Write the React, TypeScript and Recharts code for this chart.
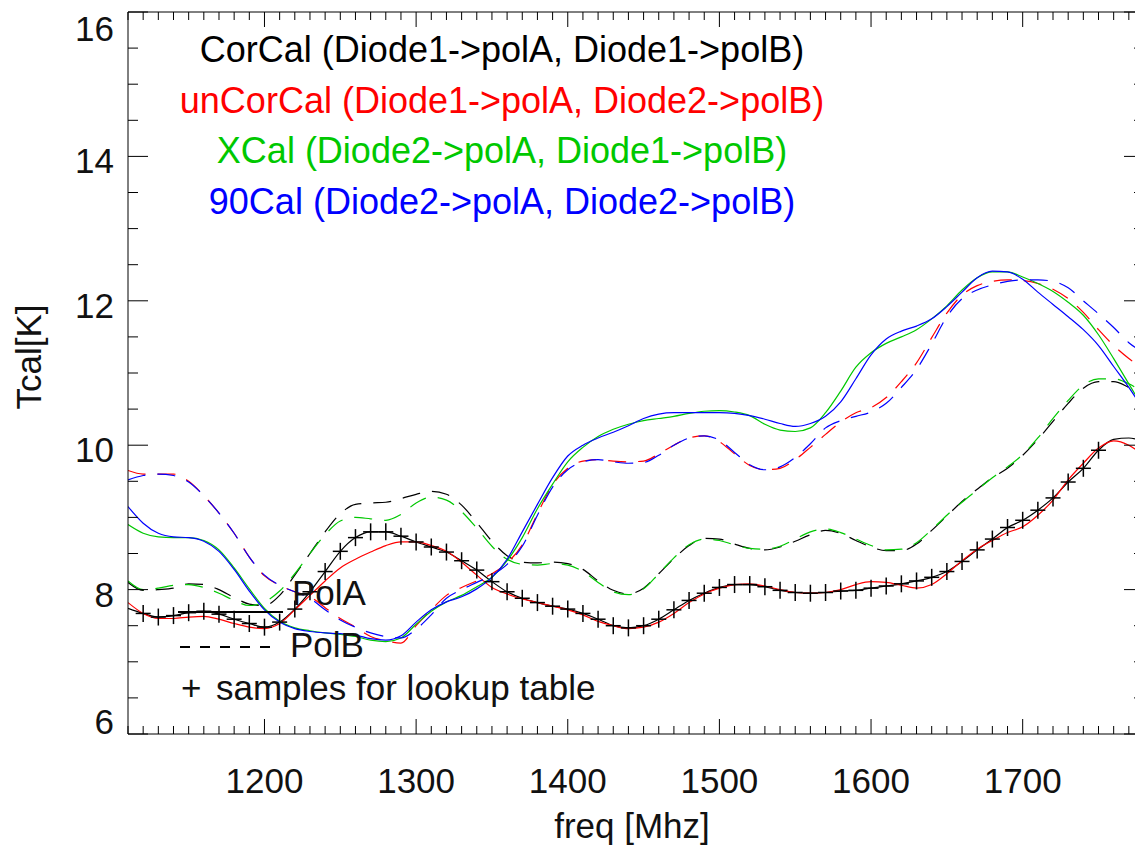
import { LineChart, Line, XAxis, YAxis } from 'recharts';

const FONT = "'Liberation Sans', Helvetica, Arial, sans-serif";

// frequency grid [MHz]
const freq = [
  1110, 1120, 1130, 1140, 1150, 1160, 1170, 1180, 1190, 1200,
  1210, 1220, 1230, 1240, 1250, 1260, 1270, 1280, 1290, 1300,
  1310, 1320, 1330, 1340, 1350, 1360, 1370, 1380, 1390, 1400,
  1410, 1420, 1430, 1440, 1450, 1460, 1470, 1480, 1490, 1500,
  1510, 1520, 1530, 1540, 1550, 1560, 1570, 1580, 1590, 1600,
  1610, 1620, 1630, 1640, 1650, 1660, 1670, 1680, 1690, 1700,
  1710, 1720, 1730, 1740, 1750, 1760, 1770, 1780,
];

// CorCal (Diode1->polA, Diode1->polB)
const corCalA = [
  7.74, 7.67, 7.62, 7.64, 7.68, 7.70, 7.66, 7.59, 7.53, 7.48,
  7.55, 7.73, 7.97, 8.25, 8.53, 8.72, 8.80, 8.80, 8.74, 8.66,
  8.59, 8.52, 8.40, 8.27, 8.11, 7.97, 7.88, 7.82, 7.77, 7.73,
  7.67, 7.59, 7.50, 7.47, 7.50, 7.59, 7.72, 7.85, 7.95, 8.03,
  8.07, 8.07, 8.04, 7.99, 7.96, 7.95, 7.96, 7.98, 7.99, 8.02,
  8.05, 8.08, 8.12, 8.17, 8.25, 8.39, 8.55, 8.70, 8.86, 8.96,
  9.10, 9.27, 9.49, 9.68, 9.93, 10.08, 10.10, 10.05,
];
const corCalB = [
  8.10, 7.99, 8.00, 8.02, 8.08, 8.07, 8.00, 7.89, 7.80, 7.78,
  7.92, 8.20, 8.50, 8.80, 9.05, 9.18, 9.20, 9.21, 9.26, 9.32,
  9.36, 9.32, 9.17, 8.93, 8.67, 8.47, 8.38, 8.37, 8.38, 8.36,
  8.28, 8.12, 7.99, 7.94, 8.02, 8.22, 8.43, 8.61, 8.71, 8.70,
  8.63, 8.57, 8.55, 8.59, 8.67, 8.76, 8.82, 8.78, 8.68, 8.59,
  8.54, 8.54, 8.63, 8.82, 9.02, 9.22, 9.39, 9.55, 9.68, 9.86,
  10.08, 10.33, 10.58, 10.79, 10.88, 10.88, 10.80, 10.68,
];

// unCorCal (Diode1->polA, Diode2->polB)
const unCorCalA = [
  7.82, 7.67, 7.60, 7.60, 7.62, 7.63, 7.59, 7.53, 7.48, 7.46,
  7.53, 7.72, 7.92, 8.12, 8.30, 8.42, 8.52, 8.61, 8.66, 8.66,
  8.61, 8.53, 8.38, 8.20, 8.03, 7.94, 7.87, 7.82, 7.77, 7.72,
  7.65, 7.56, 7.50, 7.46, 7.48, 7.55, 7.67, 7.82, 7.94, 8.02,
  8.07, 8.08, 8.05, 8.00, 7.96, 7.95, 7.96, 8.00, 8.07, 8.11,
  8.10, 8.06, 8.02, 8.07, 8.22, 8.40, 8.56, 8.68, 8.79, 8.87,
  9.03, 9.24, 9.52, 9.75, 9.96, 10.06, 10.00, 9.85,
];
const unCorCalB = [
  9.65, 9.60, 9.60, 9.60, 9.50, 9.30, 9.06, 8.78, 8.45, 8.19,
  8.06, 7.97, 7.90, 7.75, 7.60, 7.48, 7.35, 7.29, 7.26, 7.50,
  7.72, 7.92, 8.03, 8.12, 8.22, 8.37, 8.62, 9.05, 9.45, 9.68,
  9.78, 9.80, 9.78, 9.77, 9.78, 9.88, 10.00, 10.10, 10.13, 10.05,
  9.88, 9.72, 9.66, 9.68, 9.80, 9.97, 10.15, 10.32, 10.45, 10.52,
  10.66, 10.88, 11.14, 11.49, 11.83, 12.08, 12.21, 12.27, 12.29, 12.28,
  12.24, 12.16, 12.03, 11.84, 11.60, 11.38, 11.20, 11.05,
];

// XCal (Diode2->polA, Diode1->polB)
const xCalA = [
  8.90, 8.78, 8.73, 8.72, 8.72, 8.68, 8.55, 8.30, 8.01, 7.74,
  7.56, 7.47, 7.43, 7.40, 7.38, 7.35, 7.30, 7.28, 7.33, 7.52,
  7.70, 7.83, 7.92, 8.04, 8.17, 8.40, 8.72, 9.12, 9.46, 9.77,
  9.97, 10.12, 10.22, 10.29, 10.34, 10.37, 10.40, 10.44, 10.47, 10.48,
  10.46, 10.41, 10.29, 10.21, 10.19, 10.24, 10.45, 10.75, 11.08, 11.28,
  11.41, 11.50, 11.60, 11.75, 11.93, 12.15, 12.32, 12.40, 12.40, 12.33,
  12.24, 12.13, 11.98, 11.80, 11.53, 11.20, 10.85, 10.50,
];
const xCalB = [
  8.12, 8.00, 8.02, 8.06, 8.07, 8.03, 7.95, 7.85, 7.78, 7.83,
  7.98, 8.22, 8.50, 8.76, 8.95, 9.00, 8.98, 8.96, 9.04, 9.20,
  9.28, 9.24, 9.08, 8.85, 8.60, 8.42, 8.35, 8.34, 8.36, 8.34,
  8.25, 8.10, 7.97, 7.93, 8.01, 8.22, 8.44, 8.62, 8.70, 8.68,
  8.62, 8.57, 8.56, 8.60, 8.70, 8.80, 8.84, 8.79, 8.70, 8.61,
  8.55, 8.56, 8.65, 8.83, 9.03, 9.21, 9.38, 9.55, 9.70, 9.87,
  10.10, 10.37, 10.62, 10.83, 10.92, 10.92, 10.85, 10.72,
];

// 90Cal (Diode2->polA, Diode2->polB)
const ninetyCalA = [
  9.15, 8.92, 8.78, 8.73, 8.72, 8.67, 8.53, 8.28, 7.98, 7.72,
  7.55, 7.46, 7.42, 7.40, 7.39, 7.37, 7.32, 7.30, 7.36, 7.55,
  7.72, 7.83, 7.90, 8.01, 8.17, 8.42, 8.80, 9.18, 9.55, 9.85,
  10.00, 10.10, 10.18, 10.27, 10.37, 10.43, 10.45, 10.45, 10.45, 10.45,
  10.44, 10.41, 10.36, 10.30, 10.26, 10.30, 10.40, 10.60, 10.92, 11.25,
  11.47, 11.58, 11.65, 11.75, 11.92, 12.12, 12.32, 12.41, 12.40, 12.30,
  12.12, 11.95, 11.78, 11.60, 11.38, 11.09, 10.80, 10.48,
];
const ninetyCalB = [
  9.52, 9.58, 9.60, 9.58, 9.49, 9.30, 9.06, 8.78, 8.45, 8.20,
  8.06, 7.97, 7.88, 7.72, 7.58, 7.48, 7.40, 7.35, 7.33, 7.45,
  7.65, 7.88, 8.00, 8.10, 8.20, 8.35, 8.60, 9.03, 9.42, 9.66,
  9.77, 9.80, 9.77, 9.75, 9.76, 9.86, 10.00, 10.10, 10.13, 10.07,
  9.90, 9.73, 9.66, 9.70, 9.83, 10.02, 10.24, 10.34, 10.40, 10.46,
  10.58, 10.80, 11.05, 11.40, 11.78, 12.03, 12.15, 12.22, 12.27, 12.29,
  12.29, 12.27, 12.18, 12.00, 11.82, 11.63, 11.42, 11.28,
];

// lookup table samples are taken from the CorCal polA curve
const SAMPLE_FROM = 1120;
const SAMPLE_TO = 1750;

const X_LABELS = [1200, 1300, 1400, 1500, 1600, 1700];
const Y_LABELS = [6, 8, 10, 12, 14, 16];
const Y_TICKS = [6, 6.5, 7, 7.5, 8, 8.5, 9, 9.5, 10, 10.5, 11, 11.5, 12, 12.5, 13, 13.5, 14, 14.5, 15, 15.5, 16];

const legendLines = [
  { text: 'CorCal (Diode1->polA, Diode1->polB)', color: '#000000' },
  { text: 'unCorCal (Diode1->polA, Diode2->polB)', color: '#ff0000' },
  { text: 'XCal (Diode2->polA, Diode1->polB)', color: '#00c800' },
  { text: '90Cal (Diode2->polA, Diode2->polB)', color: '#0000ff' },
];

const series = [
  { key: 'corA', color: '#000000', dashed: false },
  { key: 'corB', color: '#000000', dashed: true },
  { key: 'uncA', color: '#ff0000', dashed: false },
  { key: 'uncB', color: '#ff0000', dashed: true },
  { key: 'xA', color: '#00c800', dashed: false },
  { key: 'xB', color: '#00c800', dashed: true },
  { key: 'nA', color: '#0000ff', dashed: false },
  { key: 'nB', color: '#0000ff', dashed: true },
];

const data = freq.map((f, i) => ({
  f,
  corA: corCalA[i],
  corB: corCalB[i],
  uncA: unCorCalA[i],
  uncB: unCorCalB[i],
  xA: xCalA[i],
  xB: xCalB[i],
  nA: ninetyCalA[i],
  nB: ninetyCalB[i],
  samples: f >= SAMPLE_FROM && f <= SAMPLE_TO ? corCalA[i] : null,
}));

const textStyle = { fontFamily: FONT, fill: '#111' };

// ticks point inward, like the IDL frame
function BottomTick({ x, y, payload }: any) {
  const major = X_LABELS.includes(payload.value);
  return (
    <g>
      <line x1={x} x2={x} y1={y} y2={y - (major ? 15 : 8)} stroke="#000" />
      {major && (
        <text x={x} y={y + 59} textAnchor="middle" fontSize={35} style={textStyle}>
          {payload.value}
        </text>
      )}
    </g>
  );
}

function TopTick({ x, y, payload }: any) {
  const major = X_LABELS.includes(payload.value);
  return <line x1={x} x2={x} y1={y} y2={y + (major ? 15 : 8)} stroke="#000" />;
}

function LeftTick({ x, y, payload }: any) {
  const major = Y_LABELS.includes(payload.value);
  const base = Math.min(Math.max(y + 17, 41), 734);
  return (
    <g>
      <line x1={x} x2={x + (major ? 20 : 10)} y1={y} y2={y} stroke="#000" />
      {major && (
        <text x={x - 14} y={base} textAnchor="end" fontSize={35} style={textStyle}>
          {payload.value}
        </text>
      )}
    </g>
  );
}

function RightTick({ x, y, payload }: any) {
  const major = Y_LABELS.includes(payload.value);
  return <line x1={x} x2={x - (major ? 20 : 10)} y1={y} y2={y} stroke="#000" />;
}

function CrossDot({ cx, cy, value }: any) {
  if (cx == null || cy == null || value == null) return <g />;
  return (
    <g stroke="#000" strokeWidth={1.5}>
      <line x1={cx - 7.5} x2={cx + 7.5} y1={cy} y2={cy} />
      <line x1={cx} x2={cx} y1={cy - 8.5} y2={cy + 8.5} />
    </g>
  );
}

export default function App() {
  return (
    <div style={{ position: 'absolute', left: 0, top: 0, width: 1135, height: 854, overflow: 'hidden', background: '#fff' }}>
      <LineChart width={1145} height={854} data={data} margin={{ top: 11, right: 0, bottom: 119, left: 127 }}>
        <XAxis
          xAxisId="b"
          dataKey="f"
          type="number"
          domain={[1110, 1780]}
          allowDataOverflow
          ticks={freq}
          interval={0}
          height={1}
          tickSize={0}
          tickMargin={0}
          tickLine={false}
          axisLine={{ stroke: '#000' }}
          tick={<BottomTick />}
        />
        <XAxis
          xAxisId="t"
          orientation="top"
          dataKey="f"
          type="number"
          domain={[1110, 1780]}
          allowDataOverflow
          ticks={freq}
          interval={0}
          height={1}
          tickSize={0}
          tickMargin={0}
          tickLine={false}
          axisLine={{ stroke: '#000' }}
          tick={<TopTick />}
        />
        <YAxis
          yAxisId="l"
          type="number"
          domain={[6, 16]}
          allowDataOverflow
          ticks={Y_TICKS}
          interval={0}
          width={1}
          tickSize={0}
          tickMargin={0}
          tickLine={false}
          axisLine={{ stroke: '#000' }}
          tick={<LeftTick />}
        />
        <YAxis
          yAxisId="r"
          orientation="right"
          type="number"
          domain={[6, 16]}
          allowDataOverflow
          ticks={Y_TICKS}
          interval={0}
          width={1}
          tickSize={0}
          tickMargin={0}
          tickLine={false}
          axisLine={{ stroke: '#000' }}
          tick={<RightTick />}
        />
        {series.map((s) => (
          <Line
            key={s.key}
            xAxisId="b"
            yAxisId="l"
            type="monotone"
            dataKey={s.key}
            stroke={s.color}
            strokeWidth={1.2}
            strokeDasharray={s.dashed ? '18 12' : undefined}
            dot={false}
            activeDot={false}
            isAnimationActive={false}
          />
        ))}
        <Line
          xAxisId="b"
          yAxisId="l"
          dataKey="samples"
          stroke="none"
          dot={<CrossDot />}
          activeDot={false}
          isAnimationActive={false}
        />
      </LineChart>

      <svg width={1135} height={854} style={{ position: 'absolute', left: 0, top: 0, pointerEvents: 'none' }}>
        {legendLines.map((l, i) => (
          <text
            key={l.text}
            x={502}
            y={62 + i * 50.7}
            textAnchor="middle"
            fontSize={36}
            style={{ fontFamily: FONT, fill: l.color }}
          >
            {l.text}
          </text>
        ))}

        <line x1={178} x2={283} y1={612} y2={612} stroke="#000" strokeWidth={2} />
        <text x={292} y={605} fontSize={35} style={textStyle}>PolA</text>
        <line x1={180} x2={272} y1={647} y2={647} stroke="#000" strokeWidth={2} strokeDasharray="10 10" />
        <text x={290} y={657} fontSize={35} style={textStyle}>PolB</text>
        <text x={181} y={700} fontSize={35} style={textStyle}>+</text>
        <text x={216} y={700} fontSize={35} style={textStyle}>samples for lookup table</text>

        <text x={632} y={838} textAnchor="middle" fontSize={35} style={textStyle}>freq [Mhz]</text>
        <text
          x={0}
          y={0}
          transform="translate(41 357) rotate(-90)"
          textAnchor="middle"
          fontSize={35}
          style={textStyle}
        >
          Tcal[K]
        </text>
      </svg>
    </div>
  );
}
